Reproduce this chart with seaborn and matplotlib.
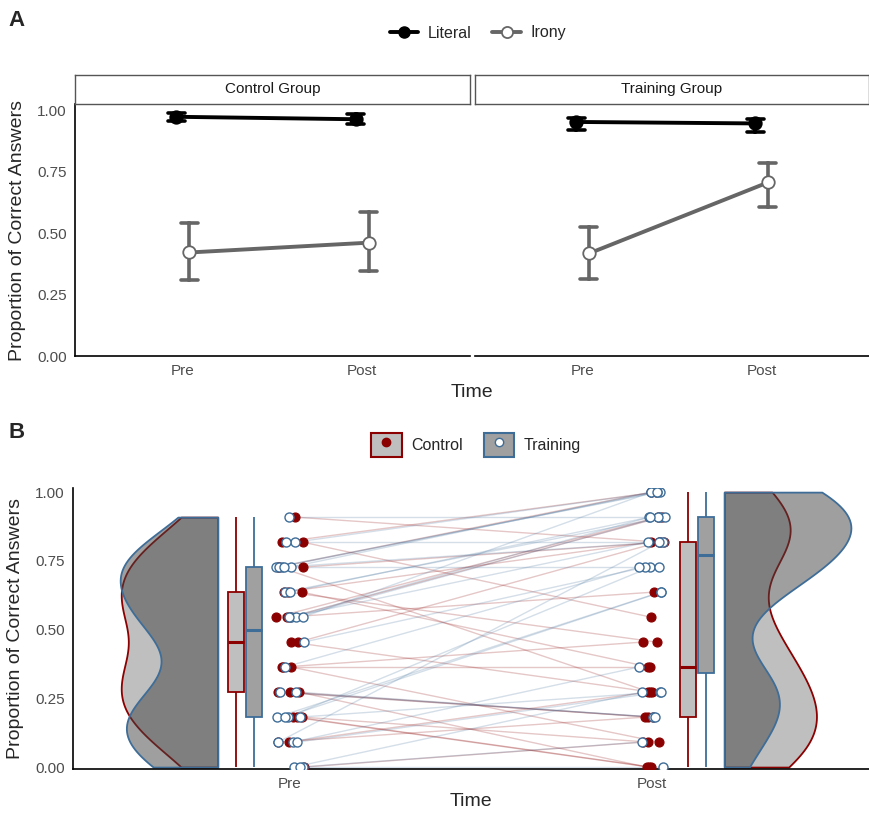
import numpy as np
import pandas as pd
import matplotlib
matplotlib.use("Agg")
import matplotlib.pyplot as plt
import matplotlib.colors as mcolors
import seaborn as sns
from matplotlib.lines import Line2D
from matplotlib.patches import Patch
from matplotlib.legend_handler import HandlerTuple

TIMES = ["Pre", "Post"]
CONDITIONS = ["Literal", "Irony"]
GROUPS = ["Control", "Training"]

# panel A: mean proportion correct and its interval, order (Pre, Post)
lit_ctrl_mean = [0.973, 0.963]
lit_ctrl_lo = [0.955, 0.943]
lit_ctrl_hi = [0.987, 0.983]
iro_ctrl_mean = [0.421, 0.461]
iro_ctrl_lo = [0.308, 0.345]
iro_ctrl_hi = [0.541, 0.584]
lit_train_mean = [0.952, 0.946]
lit_train_lo = [0.918, 0.912]
lit_train_hi = [0.970, 0.966]
iro_train_mean = [0.417, 0.706]
iro_train_lo = [0.312, 0.607]
iro_train_hi = [0.525, 0.787]

# panel B: irony items correct (out of 11) per participant, same order pre/post
N_ITEMS = 11
ctrl_pre = [3, 5, 7, 2, 0, 5, 3, 8, 4, 6, 10, 3, 6, 1, 7, 2, 9, 1, 9, 6, 2, 8, 4, 4, 7, 8]
ctrl_post = [2, 9, 5, 0, 1, 3, 2, 11, 4, 10, 9, 0, 7, 2, 9, 1, 11, 3, 6, 10, 0, 9, 5, 1, 4, 3]
train_pre = [0, 6, 2, 8, 1, 3, 8, 6, 0, 9, 2, 7, 1, 8, 5, 6, 2, 10, 0, 8, 4, 6, 1, 7, 3, 9, 2, 8]
train_post = [3, 10, 8, 11, 9, 2, 11, 10, 0, 11, 7, 10, 4, 9, 8, 11, 3, 10, 1, 11, 8, 9, 3, 10, 2, 9, 7, 8]

RED = "#8B0000"
BLUE = "#3E6D98"
GREY_TXT = "#4d4d4d"

# layout helpers (pixel -> figure fraction)
W, H = 869, 813


def fx(px):
    return px / W


def fy(py):
    return 1 - py / H


sns.set_theme(style="white")
plt.rcParams["font.family"] = ["Liberation Sans", "DejaVu Sans"]
np.random.seed(7)

fig = plt.figure(figsize=(W / 100, H / 100), dpi=100)

# ---------------- panel A ----------------
def cell_rows(group, cond, mean, lo, hi):
    rows = []
    for t, m, l, h in zip(TIMES, mean, lo, hi):
        for v in (l, m, h):
            rows.append({"group": group, "cond": cond, "time": t, "value": v})
    return rows


dfA = pd.DataFrame(
    cell_rows("Control", "Literal", lit_ctrl_mean, lit_ctrl_lo, lit_ctrl_hi)
    + cell_rows("Control", "Irony", iro_ctrl_mean, iro_ctrl_lo, iro_ctrl_hi)
    + cell_rows("Training", "Literal", lit_train_mean, lit_train_lo, lit_train_hi)
    + cell_rows("Training", "Irony", iro_train_mean, iro_train_lo, iro_train_hi)
)

axA1 = fig.add_axes([fx(75), fy(356), fx(470) - fx(75), fy(104) - fy(356)])
axA2 = fig.add_axes([fx(475), fy(356), fx(869) - fx(475), fy(104) - fy(356)])

for ax, g, title, (l, r) in [(axA1, "Control", "Control Group", (75, 470)),
                             (axA2, "Training", "Training Group", (475, 869))]:
    sns.pointplot(data=dfA[dfA["group"] == g], x="time", y="value", hue="cond",
                  order=TIMES, hue_order=CONDITIONS,
                  palette={"Literal": "black", "Irony": "#666666"},
                  estimator="median", errorbar=("pi", 100), dodge=0.072,
                  capsize=0.095, markersize=9, linewidth=2.8, markeredgewidth=1.3,
                  err_kws={"linewidth": 2.6}, legend=False, ax=ax)
    for ln in ax.lines:
        if ln.get_marker() == "o":
            ln.set_zorder(4)
            if mcolors.to_hex(ln.get_color()) == "#666666":
                ln.set_markerfacecolor("white")
                ln.set_markeredgecolor("#666666")
        else:
            ln.set_zorder(3)
    ax.set_xlim(-0.6, 1.6)
    ax.set_ylim(0, 1.025)
    ax.set_yticks([0, 0.25, 0.5, 0.75, 1.0])
    ax.set_yticklabels(["0.00", "0.25", "0.50", "0.75", "1.00"])
    ax.set_xlabel("")
    ax.set_ylabel("")
    ax.tick_params(length=0, labelsize=11, labelcolor=GREY_TXT, pad=6)
    for s in ["top", "right"]:
        ax.spines[s].set_visible(False)
    ax.spines["bottom"].set_color("black")
    ax.spines["bottom"].set_linewidth(1.2)
    ax.spines["left"].set_color("black")
    ax.spines["left"].set_linewidth(1.2)

    strip = fig.add_axes([fx(l), fy(104), fx(r) - fx(l), fy(75) - fy(104)])
    strip.set_xticks([])
    strip.set_yticks([])
    for s in strip.spines.values():
        s.set_color("#555555")
        s.set_linewidth(1.0)
    strip.text(0.5, 0.5, title, ha="center", va="center", fontsize=11, color="#1a1a1a",
               transform=strip.transAxes)

axA2.spines["left"].set_visible(False)
axA2.tick_params(labelleft=False)
axA1.set_ylabel("Proportion of Correct Answers", fontsize=14, labelpad=8)
fig.text(fx(472), fy(392), "Time", ha="center", va="center", fontsize=14)

handlesA = [
    Line2D([], [], color="black", lw=2.8, marker="o", markersize=8, markerfacecolor="black"),
    Line2D([], [], color="#666666", lw=2.8, marker="o", markersize=8,
           markerfacecolor="white", markeredgecolor="#666666", markeredgewidth=1.3),
]
fig.legend(handlesA, CONDITIONS, loc="center", bbox_to_anchor=(fx(478), fy(33)), ncol=2,
           frameon=False, fontsize=11.5, handlelength=1.8, handletextpad=0.6,
           columnspacing=1.3)

# ---------------- panel B ----------------
VIOLIN_X = {"Pre": -0.2, "Post": 1.2}
BOX_X = {("Control", "Pre"): -0.15, ("Training", "Pre"): -0.1,
         ("Control", "Post"): 1.1, ("Training", "Post"): 1.15}
TIME_X = {"Pre": 0.0, "Post": 1.0}

rowsB = []
for g, pre, post in [("Control", ctrl_pre, ctrl_post), ("Training", train_pre, train_post)]:
    for t, vals in (("Pre", pre), ("Post", post)):
        for i, v in enumerate(vals):
            rowsB.append({"group": g, "time": t, "pid": f"{g}{i}",
                          "score": v / N_ITEMS, "xpos": TIME_X[t],
                          "violin_x": VIOLIN_X[t], "box_x": BOX_X[(g, t)]})
dfB = pd.DataFrame(rowsB)

axB = fig.add_axes([fx(73), fy(769), fx(869) - fx(73), fy(488) - fy(769)])

# half violins, one area scale shared by all four
n_before = len(axB.collections)
sns.violinplot(data=dfB, x="violin_x", y="score", hue="group", hue_order=GROUPS,
               palette={"Control": "#808080", "Training": "#414141"}, native_scale=True,
               dodge=False, orient="x", inner=None, cut=0, density_norm="area",
               common_norm=True, width=0.5, bw_adjust=0.75, linewidth=1.3,
               saturation=1, legend=False, ax=axB)
for coll in axB.collections[n_before:]:
    fc = coll.get_facecolor()[0]
    is_ctrl = fc[0] > 0.4
    coll.set_facecolor((*fc[:3], 0.5))
    coll.set_edgecolor(RED if is_ctrl else BLUE)
    coll.set_linewidth(1.3)
    verts = coll.get_paths()[0].vertices.copy()
    center = (verts[:, 0].min() + verts[:, 0].max()) / 2
    if center < 0.5:
        verts[:, 0] = np.minimum(verts[:, 0], center)
    else:
        verts[:, 0] = np.maximum(verts[:, 0], center)
    coll.set_verts([verts])

# boxplots
for g, fill, edge in [("Control", "#bfbfbf", RED), ("Training", "#a0a0a0", BLUE)]:
    sns.boxplot(data=dfB[dfB["group"] == g], x="box_x", y="score", native_scale=True,
                orient="x", color=fill, linecolor=edge, linewidth=1.3, width=0.036,
                saturation=1, showfliers=False, showcaps=False,
                medianprops={"linewidth": 2.2}, ax=axB)

# points and paired lines
for g, face, edge, lw in [("Control", RED, RED, 0.8), ("Training", "white", BLUE, 1.0)]:
    sub = dfB[dfB["group"] == g]
    n_before = len(axB.collections)
    sns.stripplot(data=sub, x="xpos", y="score", native_scale=True, orient="x",
                  jitter=0.04, color=face, edgecolor=edge, linewidth=lw, size=6.5,
                  zorder=5, ax=axB)
    new = axB.collections[n_before:]
    offs = sorted([c.get_offsets() for c in new], key=lambda o: o[:, 0].mean())
    pre_xy, post_xy = offs[0], offs[1]
    for (x0, y0), (x1, y1) in zip(pre_xy, post_xy):
        axB.plot([x0, x1], [y0, y1], color=edge, alpha=0.22, lw=1.0, zorder=2)

axB.set_xlim(-0.6, 1.6)
axB.set_ylim(-0.007, 1.015)
axB.set_xticks([0, 1])
axB.set_xticklabels(TIMES)
axB.set_yticks([0, 0.25, 0.5, 0.75, 1.0])
axB.set_yticklabels(["0.00", "0.25", "0.50", "0.75", "1.00"])
axB.tick_params(length=0, labelsize=11, labelcolor=GREY_TXT, pad=6)
axB.tick_params(axis="x", pad=6)
axB.set_xlabel("Time", fontsize=14, labelpad=1)
axB.set_ylabel("Proportion of Correct Answers", fontsize=14, labelpad=8)
for s in ["top", "right"]:
    axB.spines[s].set_visible(False)
for s in ["left", "bottom"]:
    axB.spines[s].set_color("black")
    axB.spines[s].set_linewidth(1.2)

handlesB = [
    (Patch(facecolor="#bfbfbf", edgecolor=RED, linewidth=1.5),
     Line2D([], [], ls="none", marker="o", markersize=6, markerfacecolor=RED, markeredgecolor=RED)),
    (Patch(facecolor="#a0a0a0", edgecolor=BLUE, linewidth=1.5),
     Line2D([], [], ls="none", marker="o", markersize=6, markerfacecolor="white", markeredgecolor=BLUE)),
]
fig.legend(handlesB, GROUPS, loc="center", bbox_to_anchor=(fx(476), fy(445)), ncol=2,
           frameon=False, fontsize=11.5, handlelength=1.9, handleheight=1.9,
           handletextpad=0.6, columnspacing=1.3,
           handler_map={tuple: HandlerTuple(ndivide=1, pad=0)})

fig.text(fx(8), fy(20), "A", fontsize=16, fontweight="bold", ha="left", va="center")
fig.text(fx(8), fy(432), "B", fontsize=16, fontweight="bold", ha="left", va="center")

fig.savefig("out.png", dpi=100)
